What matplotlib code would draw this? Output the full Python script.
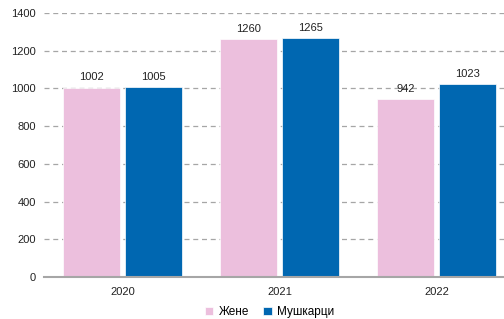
import matplotlib

matplotlib.use("Agg")

import matplotlib.pyplot as plt
import numpy as np

years = ["2020", "2021", "2022"]
women = [1002, 1260, 942]
men = [1005, 1265, 1023]
labels = ["Жене", "Мушкарци"]
yticks = [0, 200, 400, 600, 800, 1000, 1200, 1400]

PINK = "#ECBFDD"
BLUE = "#0067B1"

plt.rcParams["font.family"] = ["Liberation Sans", "DejaVu Sans"]

fig = plt.figure(figsize=(5.04, 3.19), dpi=100)
ax = fig.add_axes([44 / 504, 1 - 277 / 319, 471 / 504, 264 / 319])

x = np.arange(len(years))
width = 0.365
offset = 0.198
b1 = ax.bar(x - offset, women, width, color=PINK, label=labels[0], zorder=3,
            edgecolor="white", linewidth=0.5)
b2 = ax.bar(x + offset, men, width, color=BLUE, label=labels[1], zorder=3,
            edgecolor="white", linewidth=0.5)
for bars in (b1, b2):
    ax.bar_label(bars, padding=4, fontsize=8, color="#222222")

ax.set_xlim(-0.5, 2.5)
ax.set_ylim(0, 1400)
ax.set_yticks(yticks)
ax.set_xticks(x)
ax.set_xticklabels(years)
ax.tick_params(axis="both", length=0, labelsize=8, colors="#222222")
ax.tick_params(axis="y", pad=6)
ax.tick_params(axis="x", pad=7)
ax.grid(axis="y", linestyle=(0, (4, 3)), color="#A6A6A6", linewidth=0.9, zorder=0)
for side in ("top", "right", "left"):
    ax.spines[side].set_visible(False)
ax.spines["bottom"].set_color("#A6A6A6")
ax.spines["bottom"].set_linewidth(1.5)
ax.spines["bottom"].set_zorder(4)

fig.legend(
    handles=[b1, b2],
    labels=labels,
    loc="lower center",
    bbox_to_anchor=(0.535, -0.03),
    ncol=2,
    frameon=False,
    fontsize=8.5,
    handlelength=0.7,
    handleheight=0.7,
    handletextpad=0.5,
    columnspacing=1.2,
)

fig.savefig("out.png", dpi=100)
